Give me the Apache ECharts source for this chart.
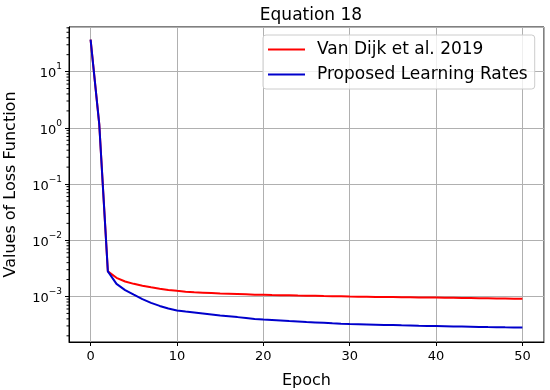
<!DOCTYPE html>
<html>
<head>
<meta charset="utf-8">
<script src="https://cdn.jsdelivr.net/npm/echarts@6/dist/echarts.min.js"></script>
<style>
html,body{margin:0;padding:0;background:#fff;}
#c{width:550px;height:390px;}
</style>
</head>
<body>
<div id="c"></div>
<script>
var epochs = [];
for (var i = 0; i <= 50; i++) epochs.push(i);

var vanDijk = [
  37, 1.18, 2.8e-3, 2.15e-3, 1.85e-3, 1.68e-3, 1.56e-3, 1.46e-3, 1.38e-3, 1.31e-3,
  1.26e-3, 1.22e-3, 1.19e-3, 1.17e-3, 1.15e-3, 1.13e-3, 1.12e-3, 1.11e-3, 1.10e-3, 1.08e-3,
  1.07e-3, 1.06e-3, 1.055e-3, 1.05e-3, 1.04e-3, 1.035e-3, 1.03e-3, 1.02e-3, 1.015e-3, 1.01e-3,
  1.0e-3, 0.995e-3, 0.99e-3, 0.985e-3, 0.98e-3, 0.976e-3, 0.972e-3, 0.968e-3, 0.964e-3, 0.96e-3,
  0.956e-3, 0.952e-3, 0.948e-3, 0.944e-3, 0.94e-3, 0.935e-3, 0.93e-3, 0.925e-3, 0.92e-3, 0.915e-3,
  0.91e-3
];

var proposed = [
  37, 1.18, 2.8e-3, 1.68e-3, 1.3e-3, 1.08e-3, 9.0e-4, 7.7e-4, 6.8e-4, 6.1e-4,
  5.65e-4, 5.4e-4, 5.2e-4, 5.0e-4, 4.8e-4, 4.6e-4, 4.45e-4, 4.3e-4, 4.15e-4, 4.0e-4,
  3.9e-4, 3.82e-4, 3.74e-4, 3.66e-4, 3.59e-4, 3.52e-4, 3.46e-4, 3.4e-4, 3.34e-4, 3.29e-4,
  3.25e-4, 3.22e-4, 3.19e-4, 3.16e-4, 3.13e-4, 3.1e-4, 3.07e-4, 3.05e-4, 3.02e-4, 3.0e-4,
  2.98e-4, 2.96e-4, 2.94e-4, 2.92e-4, 2.9e-4, 2.88e-4, 2.86e-4, 2.85e-4, 2.83e-4, 2.82e-4,
  2.8e-4
];

var seriesNames = ['Van Dijk et al. 2019', 'Proposed Learning Rates'];

// log-axis extent (as exponents of 10)
var yMinExp = -3.809, yMaxExp = 1.793;
var yMin = Math.pow(10, yMinExp), yMax = Math.pow(10, yMaxExp);

// minor tick positions of the log axis (2..9 × 10^k)
var minorTicks = [];
for (var k = -4; k <= 1; k++) {
  for (var m = 2; m <= 9; m++) {
    var v = m * Math.pow(10, k);
    if (v > yMin && v < yMax) minorTicks.push(v);
  }
}

var FONT = 'DejaVu Sans';

function pairs(ys) {
  return epochs.map(function (x, i) { return [x, ys[i]]; });
}

var chart = echarts.init(document.getElementById('c'), null, {renderer: 'canvas'});
chart.setOption({
  animation: false,
  textStyle: {fontFamily: FONT},
  title: {
    text: 'Equation 18',
    left: 306, top: 2, textAlign: 'center',
    textStyle: {fontFamily: FONT, fontSize: 17, fontWeight: 'normal', color: '#000'}
  },
  legend: {
    orient: 'vertical',
    left: 263, top: 35,
    data: seriesNames,
    icon: 'rect',
    itemWidth: 37, itemHeight: 2,
    itemGap: 8,
    padding: [6, 7, 6, 5],
    backgroundColor: 'rgba(255,255,255,0.8)',
    borderColor: '#cccccc', borderWidth: 1, borderRadius: 3,
    textStyle: {fontFamily: FONT, fontSize: 17, color: '#000', padding: [0, 0, 0, 7]}
  },
  grid: {
    left: 69, right: 6, top: 27, bottom: 48,
    outerBoundsMode: 'none', containLabel: false,
    show: true, borderColor: '#000', borderWidth: 1, backgroundColor: '#fff'
  },
  xAxis: {
    type: 'value', min: -2.5, max: 52.5,
    name: 'Epoch', nameLocation: 'middle', nameGap: 31,
    nameTextStyle: {fontFamily: FONT, fontSize: 16, color: '#000'},
    axisLine: {show: true, onZero: false, lineStyle: {color: '#000', width: 1}},
    axisTick: {show: true, inside: false, length: 4, lineStyle: {color: '#000'}},
    axisLabel: {fontFamily: FONT, fontSize: 13, color: '#000', margin: 8, showMinLabel: false, showMaxLabel: false},
    splitLine: {show: true, lineStyle: {color: '#b0b0b0', width: 1}}
  },
  yAxis: {
    type: 'log', logBase: 10, min: yMin, max: yMax,
    name: 'Values of Loss Function', nameLocation: 'middle', nameGap: 50,
    nameTextStyle: {fontFamily: FONT, fontSize: 16, color: '#000'},
    axisLine: {show: true, onZero: false, lineStyle: {color: '#000', width: 1}},
    axisTick: {show: true, inside: false, length: 4, lineStyle: {color: '#000'}},
    axisLabel: {
      fontFamily: FONT, color: '#000', margin: 7,
      showMinLabel: false, showMaxLabel: false,
      formatter: function (v) {
        var e = Math.round(Math.log10(v));
        var s = e < 0 ? '\u2212' + (-e) : String(e);
        return '{b|10}{s|' + s + '}';
      },
      rich: {
        b: {fontFamily: FONT, fontSize: 13, color: '#000', lineHeight: 18, verticalAlign: 'bottom'},
        s: {fontFamily: FONT, fontSize: 9, color: '#000', lineHeight: 12, verticalAlign: 'top'}
      }
    },
    splitLine: {show: true, lineStyle: {color: '#b0b0b0', width: 1}}
  },
  series: [
    {
      name: seriesNames[0], type: 'line', data: pairs(vanDijk),
      showSymbol: false, symbol: 'none',
      lineStyle: {color: '#ff0000', width: 2}, itemStyle: {color: '#ff0000'},
      z: 3
    },
    {
      name: seriesNames[1], type: 'line', data: pairs(proposed),
      showSymbol: false, symbol: 'none',
      lineStyle: {color: '#0000cc', width: 2}, itemStyle: {color: '#0000cc'},
      z: 4
    },
    {
      type: 'custom', silent: true, clip: false,
      data: minorTicks.map(function (v) { return [-2.5, v]; }),
      renderItem: function (params, api) {
        var p = api.coord([api.value(0), api.value(1)]);
        return {
          type: 'line',
          shape: {x1: p[0] - 2.5, y1: p[1], x2: p[0], y2: p[1]},
          style: {stroke: '#000', lineWidth: 1}
        };
      },
      z: 5
    }
  ]
});
</script>
</body>
</html>
